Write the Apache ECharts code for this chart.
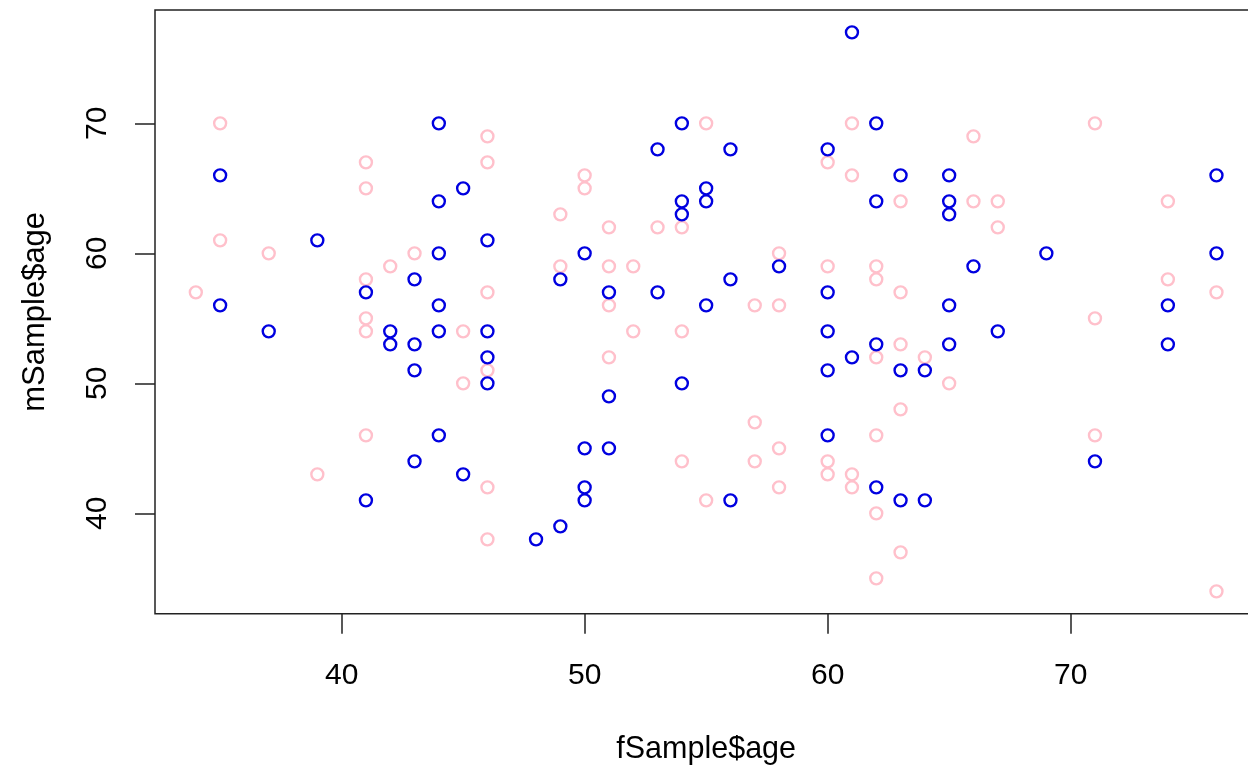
<!DOCTYPE html>
<html>
<head>
<meta charset="utf-8">
<script src="https://cdn.jsdelivr.net/npm/echarts@6/dist/echarts.min.js"></script>
<style>
html,body{margin:0;padding:0;background:#fff;}
#chart{width:1248px;height:769px;}
</style>
</head>
<body>
<div id="chart"></div>
<script>
// Tick labels
const xTicks = [40, 50, 60, 70];
const yTicks = [40, 50, 60, 70];

// Blue series (fSample$age, mSample$age)
const blueX = [35,35,37,39,41,41,42,42,43,43,43,43,44,44,44,44,44,44,45,45,46,46,46,46,48,49,49,50,50,50,50,51,51,51,53,53,54,54,54,54,55,55,55,56,56,56,58,60,60,60,60,60,61,61,62,62,62,62,63,63,63,64,64,65,65,65,65,65,66,67,69,71,74,74,76,76];
const blueY = [66,56,54,61,57,41,54,53,58,53,51,44,70,64,60,56,54,46,65,43,61,54,52,50,38,58,39,60,45,42,41,57,49,45,68,57,70,64,63,50,65,64,56,68,58,41,59,68,57,54,51,46,77,52,70,64,53,42,66,51,41,51,41,66,64,63,56,53,59,54,60,44,56,53,66,60];

// Pink series
const pinkX = [34,35,35,37,39,41,41,41,41,41,41,42,43,45,45,46,46,46,46,46,46,49,49,50,50,51,51,51,51,52,52,53,54,54,54,55,55,57,57,57,58,58,58,58,60,60,60,60,61,61,61,61,62,62,62,62,62,62,63,63,63,63,63,64,65,66,66,67,67,71,71,71,74,74,76,76];
const pinkY = [57,70,61,60,43,67,65,58,55,54,46,59,60,54,50,69,67,57,51,42,38,63,59,66,65,62,59,56,52,59,54,62,62,54,44,70,41,56,47,44,60,56,45,42,67,59,44,43,70,66,43,42,59,58,52,46,40,35,64,57,53,48,37,52,50,69,64,64,62,70,55,46,64,58,57,34];

const xName = 'fSample$age';
const yName = 'mSample$age';

const zip = (a, b) => a.map((v, i) => [v, b[i]]);

const FONT = 'Liberation Sans, Arial, sans-serif';
const chart = echarts.init(document.getElementById('chart'), null, {renderer: 'canvas'});
chart.setOption({
  animation: false,
  backgroundColor: '#fff',
  grid: {
    left: 155, top: 10, width: 1102.3, height: 603.7,
    containLabel: false, outerBoundsMode: 'none',
    show: true, borderColor: '#222', borderWidth: 1.5, backgroundColor: 'transparent'
  },
  xAxis: {
    type: 'value', min: 32.32, max: 77.68,
    splitLine: {show: false},
    axisLine: {show: false},
    axisTick: {show: true, length: 20, customValues: xTicks, lineStyle: {color: '#222', width: 1.5}},
    axisLabel: {show: true, customValues: xTicks, margin: 47, fontSize: 30, color: '#000', fontFamily: FONT},
    name: xName, nameLocation: 'middle', nameGap: 120,
    nameTextStyle: {fontSize: 30.5, color: '#000', fontFamily: FONT}
  },
  yAxis: {
    type: 'value', min: 32.28, max: 78.72,
    splitLine: {show: false},
    axisLine: {show: false},
    axisTick: {show: true, length: 20, customValues: yTicks, lineStyle: {color: '#222', width: 1.5}},
    axisLabel: {show: true, customValues: yTicks, margin: 42, rotate: 90, fontSize: 30, color: '#000', fontFamily: FONT},
    name: yName, nameLocation: 'middle', nameGap: 104, nameRotate: 90,
    nameTextStyle: {fontSize: 31, color: '#000', fontFamily: FONT}
  },
  series: [
    {
      type: 'scatter', name: 'pink', data: zip(pinkX, pinkY),
      symbol: 'circle', symbolSize: 12,
      itemStyle: {color: 'transparent', borderColor: '#FFC0CB', borderWidth: 2.4, opacity: 1}
    },
    {
      type: 'scatter', name: 'blue', data: zip(blueX, blueY),
      symbol: 'circle', symbolSize: 12,
      itemStyle: {color: 'transparent', borderColor: '#0000E0', borderWidth: 2.4, opacity: 1}
    }
  ]
});
</script>
</body>
</html>
